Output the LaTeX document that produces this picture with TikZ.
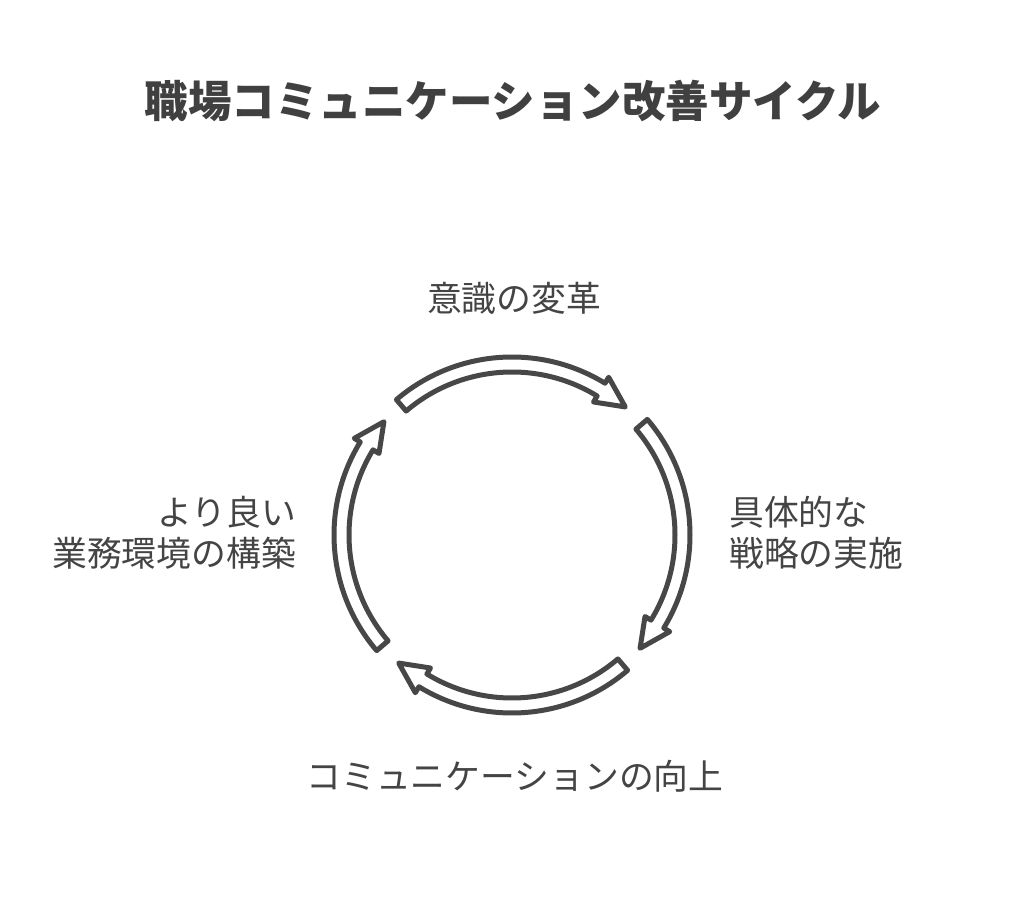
\documentclass[tikz,border=0pt]{standalone}
\usepackage{fontspec}
\setmainfont{Noto Sans CJK JP}
\usetikzlibrary{calc}
\definecolor{ink}{HTML}{474747}
\definecolor{txt}{HTML}{444444}
\definecolor{ttl}{HTML}{404040}
\tikzset{
  arrowline/.style={draw=ink, line width=5pt, line join=round, fill=white},
  label/.style={text=txt, font=\fontsize{34.8}{41}\selectfont, inner sep=0pt},
  titlelabel/.style={text=ttl, font=\fontsize{43.5}{50}\selectfont\bfseries, inner sep=0pt}
}
\newcommand\cyclearrow[1]{%
  \draw[arrowline] (#1+40.5:178) arc[start angle=#1+40.5, end angle=#1-31.5, radius=178]
    -- (#1-31.5:185) -- (#1-41.5:171) -- (#1-31.5:156) -- (#1-31.5:163)
    arc[start angle=#1-31.5, end angle=#1+40.5, radius=163] -- cycle;}
\begin{document}
\begin{tikzpicture}[x=1pt,y=1pt]
\useasboundingbox (0,0) rectangle (1024,918);
\fill[white] (0,0) rectangle (1024,918);
\coordinate (C) at (512,383);
\begin{scope}[shift={(C)}]
  \cyclearrow{90}
  \cyclearrow{0}
  \cyclearrow{-90}
  \cyclearrow{180}
\end{scope}
\node[titlelabel] (title) at (513,817) {職場コミュニケーション改善サイクル};
\node[label] (top) at (514,620) {意識の変革};
\node[label, anchor=west, align=left] (right) at (729,385) {具体的な\\戦略の実施};
\node[label, anchor=east, align=right] (left) at (296,385) {より良い\\業務環境の構築};
\node[label] (bottom) at (515,142) {コミュニケーションの向上};
\end{tikzpicture}
\end{document}
